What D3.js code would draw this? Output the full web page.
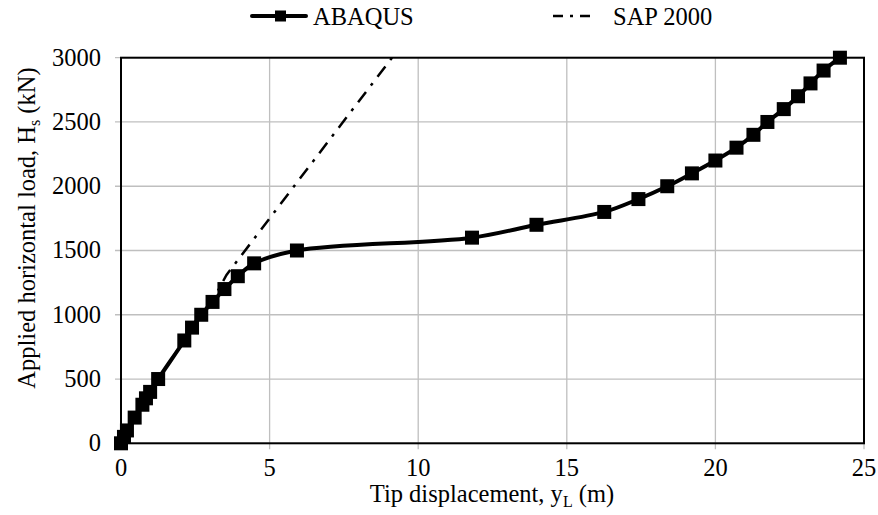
<!DOCTYPE html>
<html>
<head>
<meta charset="utf-8">
<script src="https://cdn.jsdelivr.net/npm/d3@7/dist/d3.min.js"></script>
<style>
  body { margin:0; background:#fff; }
</style>
</head>
<body>
<div id="chart"></div>
<script>
// load-displacement data
const abaqusX = [0, 0.1, 0.2, 0.46, 0.72, 0.84, 0.98, 1.25, 2.13, 2.39, 2.7, 3.08, 3.48, 3.93, 4.48,
                 5.92, 11.81, 13.98, 16.26, 17.41, 18.38, 19.21, 20.0, 20.71, 21.28, 21.75, 22.3,
                 22.78, 23.2, 23.64, 24.19];
const abaqusY = [0, 50, 100, 200, 300, 350, 400, 500, 800, 900, 1000, 1100, 1200, 1300, 1400,
                 1500, 1600, 1700, 1800, 1900, 2000, 2100, 2200, 2300, 2400, 2500, 2600,
                 2700, 2800, 2900, 3000];
const sapX = [0, 1.25, 2.7, 3.15, 3.55, 9.12];
const sapY = [0, 500, 1000, 1140, 1310, 3000];
const xTicks = [0, 5, 10, 15, 20, 25];
const yTicks = [0, 500, 1000, 1500, 2000, 2500, 3000];

const FONT = "'Liberation Serif', 'Times New Roman', 'DejaVu Serif', serif";
const FS = 24.5;
const W = 878, H = 515;
const margin = { top:57.7, right:14, bottom:71.7, left:121 };
const innerW = W - margin.left - margin.right;
const innerH = H - margin.top - margin.bottom;

const svg = d3.select("#chart").append("svg")
  .attr("width", W).attr("height", H)
  .style("font-family", FONT);

const g = svg.append("g")
  .attr("transform", `translate(${margin.left},${margin.top})`);

const x = d3.scaleLinear().domain([0, 25]).range([0, innerW]);
const y = d3.scaleLinear().domain([0, 3000]).range([innerH, 0]);

// ── grid ────────────────────────────────────────────────────────────────
g.append("g").selectAll("line.vg")
  .data(xTicks)
  .enter().append("line")
  .attr("x1", d => x(d)).attr("x2", d => x(d))
  .attr("y1", 0).attr("y2", innerH + 6)
  .attr("stroke", "#bfbfbf").attr("stroke-width", 1.3);

g.append("g").selectAll("line.hg")
  .data(yTicks)
  .enter().append("line")
  .attr("x1", -6).attr("x2", innerW)
  .attr("y1", d => y(d)).attr("y2", d => y(d))
  .attr("stroke", "#bfbfbf").attr("stroke-width", 1.3);

// frame
g.append("rect")
  .attr("x", 0).attr("y", 0)
  .attr("width", innerW).attr("height", innerH)
  .attr("fill", "none")
  .attr("stroke", "#000").attr("stroke-width", 2);

// ── tick labels ─────────────────────────────────────────────────────────
g.append("g").selectAll("text")
  .data(xTicks)
  .enter().append("text")
  .attr("x", d => x(d))
  .attr("y", innerH + 33)
  .attr("text-anchor", "middle")
  .style("font-size", FS + "px")
  .text(d => d);

g.append("g").selectAll("text")
  .data(yTicks)
  .enter().append("text")
  .attr("x", -20)
  .attr("y", d => y(d) + 8)
  .attr("text-anchor", "end")
  .style("font-size", FS + "px")
  .text(d => d);

// ── axis titles ─────────────────────────────────────────────────────────
const xt = svg.append("text")
  .attr("x", 492).attr("y", 502)
  .attr("text-anchor", "middle")
  .style("font-size", FS + "px");
xt.append("tspan").text("Tip displacement, y");
xt.append("tspan").attr("dy", 5).style("font-size", "16px").text("L");
xt.append("tspan").attr("dy", -5).text(" (m)");

const yt = svg.append("text")
  .attr("transform", "translate(35,228) rotate(-90)")
  .attr("text-anchor", "middle")
  .style("font-size", FS + "px");
yt.append("tspan").text("Applied horizontal load, H");
yt.append("tspan").attr("dy", 5).style("font-size", "16px").text("s");
yt.append("tspan").attr("dy", -5).text(" (kN)");

// ── series ──────────────────────────────────────────────────────────────
const sapPts = sapX.map((v, i) => [v, sapY[i]]);
const abqPts = abaqusX.map((v, i) => [v, abaqusY[i]]);

g.append("path")
  .datum(sapPts)
  .attr("d", d3.line().x(d => x(d[0])).y(d => y(d[1])))
  .attr("fill", "none")
  .attr("stroke", "#000")
  .attr("stroke-width", 2.5)
  .attr("stroke-dasharray", "13,8,3,8");

g.append("path")
  .datum(abqPts)
  .attr("d", d3.line().curve(d3.curveCatmullRom.alpha(0.5)).x(d => x(d[0])).y(d => y(d[1])))
  .attr("fill", "none")
  .attr("stroke", "#000")
  .attr("stroke-width", 4)
  .attr("stroke-linejoin", "round");

const ms = 14;
g.append("g").selectAll("rect")
  .data(abqPts)
  .enter().append("rect")
  .attr("x", d => x(d[0]) - ms / 2)
  .attr("y", d => y(d[1]) - ms / 2)
  .attr("width", ms).attr("height", ms)
  .attr("fill", "#000");

// ── legend ──────────────────────────────────────────────────────────────
const lg = svg.append("g");
lg.append("line")
  .attr("x1", 252).attr("x2", 306).attr("y1", 16).attr("y2", 16)
  .attr("stroke", "#000").attr("stroke-width", 4).attr("stroke-linecap", "round");
lg.append("rect")
  .attr("x", 275).attr("y", 10.5).attr("width", 11).attr("height", 11)
  .attr("fill", "#000");
lg.append("text")
  .attr("x", 313).attr("y", 25)
  .style("font-size", FS + "px")
  .text("ABAQUS");

lg.append("line")
  .attr("x1", 553).attr("x2", 592).attr("y1", 16).attr("y2", 16)
  .attr("stroke", "#000").attr("stroke-width", 2.5)
  .attr("stroke-dasharray", "10,7,3,7");
lg.append("text")
  .attr("x", 613).attr("y", 25)
  .style("font-size", FS + "px")
  .text("SAP 2000");
</script>
</body>
</html>
